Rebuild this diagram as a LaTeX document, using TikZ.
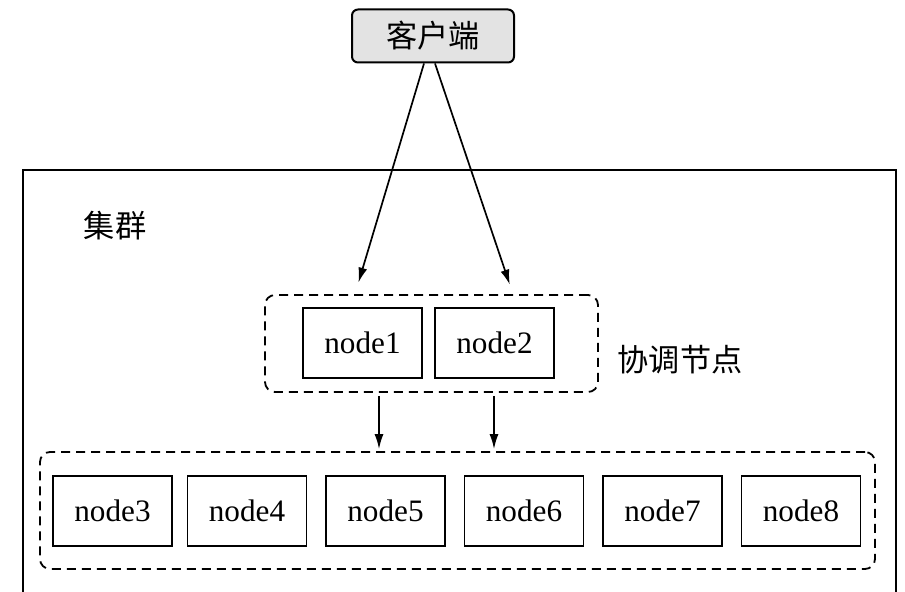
\documentclass[tikz,border=0pt]{standalone}
\usepackage{fontspec}
\setmainfont{Liberation Serif}
\newfontfamily\cjk{Noto Sans CJK SC}
\usepackage{tikz}
\usetikzlibrary{arrows.meta}
\tikzset{
Client/.style={
 draw=black, 
 fill=gray!22, 
 rounded corners=3pt, 
 line width=1pt, 
 minimum width=81pt, 
 minimum height=26.5pt, 
 font=\cjk\fontsize{15.6}{18}\selectfont
 },
Serveur/.style={
 draw=black, 
 line width=0.9pt, 
 inner sep=0pt, 
 minimum width=59.5pt, 
 minimum height=35pt
 },
Groupe/.style={
 draw=black, 
 dashed, 
 dash pattern=on 4.5pt off 3pt, 
 line width=0.9pt, 
 rounded corners=5pt, 
 inner sep=0pt
 },
Fleche/.style={
 draw=black, 
 line width=0.85pt, 
 -{Latex[length=7.5pt,width=4.5pt]}
 }
}
\begin{document}
\begin{tikzpicture}[x=0.5pt,y=-0.5pt,font=\fontsize{15.6}{18}\selectfont]
\clip (0,0) rectangle (905,592);
\draw[line width=1.2pt] (23,170) rectangle (896,620);
\node[font=\cjk\fontsize{15.6}{18}\selectfont] (cluster) at (115,226) {集群};
\node[Client] (client) at (433,36) {客户端};
\node[Groupe,minimum width=166.5pt,minimum height=48.5pt] (coord) at (431.5,343.5) {};
\node[Groupe,minimum width=417.5pt,minimum height=58.5pt] (workers) at (457.5,510.5) {};
\node[Serveur] (n1) at (362.5,343) {node1};
\node[Serveur] (n2) at (494.5,343) {node2};
\node[font=\cjk\fontsize{15.6}{18}\selectfont] (coordlabel) at (680,360) {协调节点};
\node[Serveur] (n3) at (112.5,511) {node3};
\node[Serveur] (n4) at (247,511) {node4};
\node[Serveur] (n5) at (385.5,511) {node5};
\node[Serveur] (n6) at (524,511) {node6};
\node[Serveur] (n7) at (662.5,511) {node7};
\node[Serveur] (n8) at (801,511) {node8};
\draw[Fleche,shorten >=6pt] ([xshift=-4.5pt]client.south) -- ([xshift=-38.25pt]coord.north);
\draw[Fleche,shorten >=5pt] ([xshift=1pt]client.south) -- ([xshift=40.75pt]coord.north);
\draw[Fleche,shorten <=1.5pt,shorten >=1pt] ([xshift=-26.25pt]coord.south) -- ([xshift=-39.25pt]workers.north);
\draw[Fleche,shorten <=1.5pt,shorten >=1pt] ([xshift=31.25pt]coord.south) -- ([xshift=18.25pt]workers.north);
\end{tikzpicture}
\end{document}
